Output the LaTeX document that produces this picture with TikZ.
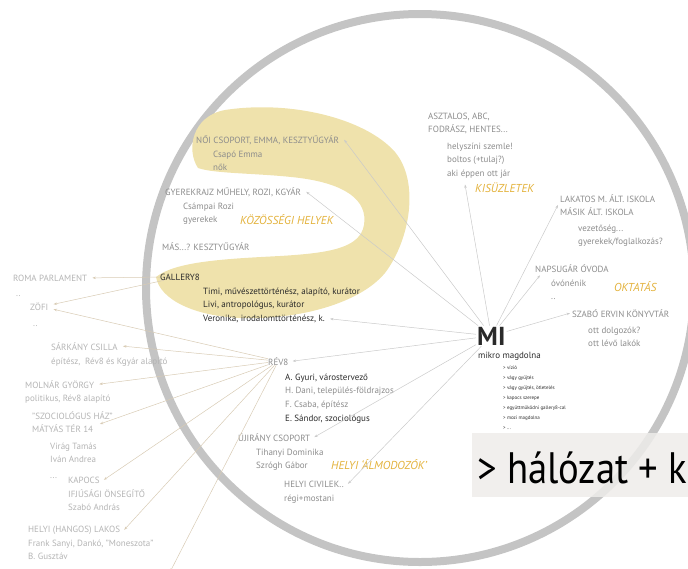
\documentclass[tikz,border=0pt]{standalone}
\usepackage{fontspec}
\setmainfont{PT Sans}
\newfontfamily\bigfont{PT Sans}[FakeStretch=0.88]
\usetikzlibrary{arrows.meta,positioning}

\definecolor{ringgray}{HTML}{C4C4C4}
\definecolor{blob}{HTML}{EFE2AC}
\definecolor{gold}{HTML}{E3B23C}
\definecolor{txtgray}{HTML}{8C8C8C}
\definecolor{outgray}{HTML}{B4B4B4}
\definecolor{dark}{HTML}{2A2A2A}
\definecolor{linegray}{HTML}{CACACA}
\definecolor{linetan}{HTML}{D8CBB4}
\definecolor{boxgray}{HTML}{EEECEA}

\begin{document}
\begin{tikzpicture}[x=1pt,y=-1pt]
  \tikzstyle{lbl}=[inner sep=0pt, anchor=base west, align=left, font=\fontsize{9}{13.7}\selectfont, text=txtgray]
  \tikzstyle{outlbl}=[lbl, text=outgray]
  \tikzstyle{darklbl}=[lbl, text=dark]
  \tikzstyle{cat}=[inner sep=0pt, anchor=base west, font=\fontsize{11.5}{13}\selectfont\itshape, text=gold]
  \tikzstyle{link}=[-{Stealth[length=3.5pt,width=2.5pt]}, line width=0.5pt, linegray]
  \tikzstyle{outlink}=[link, linetan]

  \useasboundingbox (0,0) rectangle (688,568);
  \clip (0,0) rectangle (688,568);

  % the big circle
  \draw[ringgray, line width=8pt] (420,288) circle [radius=274pt];

  % yellow blob of the community places
  \fill[blob] (156,277) .. controls (175,262) and (220,259) .. (280,256)
    .. controls (330,253) and (360,248) .. (364,225)
    .. controls (368,200) and (345,184) .. (300,178)
    .. controls (260,173) and (215,174) .. (198,168)
    .. controls (186,150) and (192,116) .. (225,110)
    .. controls (290,100) and (365,118) .. (395,152)
    .. controls (420,182) and (410,240) .. (385,273)
    .. controls (360,303) and (300,320) .. (240,318)
    .. controls (195,316) and (160,300) .. (156,277) -- cycle;

  % MI (multi-line nodes sit on the baseline of their last line)
  \node[inner sep=1pt, anchor=base west, font=\fontsize{26}{26}\selectfont\bfseries, text=dark] (mi) at (476,345) {MI};
  \node[darklbl] (misub) at (478,358) {mikro magdolna};
  \node[inner sep=0pt, anchor=base west, align=left, font=\fontsize{5}{10}\selectfont, text=dark] (milist) at (503,429)
    {> vízió\\> vágy gyűjtés\\> vágy gyűjtés, ötletelés\\> kapocs szerepe\\> együttműködni gallery8-cal\\> mozi magdolna\\> ...};

  % community places
  \node[lbl] (noi) at (196,143) {NŐI CSOPORT, EMMA, KESZTYŰGYÁR};
  \node[lbl] (noisub) at (213,170.7) {Csapó Emma\\nők};
  \node[lbl] (gyer) at (165,195) {GYEREKRAJZ MŰHELY, ROZI, KGYÁR};
  \node[lbl] (gyersub) at (183,222.7) {Csámpai Rozi\\gyerekek};
  \node[cat] (kozos) at (240,224) {KÖZÖSSÉGI HELYEK};
  \node[lbl] (mas) at (162,250) {MÁS...? KESZTYŰGYÁR};
  \node[darklbl] (gal) at (160,280) {GALLERY8};
  \node[darklbl] (galsub) at (203,307.7) {Timi, művészettörténész, alapító, kurátor\\Livi, antropológus, kurátor};
  \node[darklbl] (vero) at (203,321.4) {Veronika, irodalomttörténész, k.};

  % local dreamers
  \node[lbl] (revb) at (268,365) {RÉV8};
  \node[lbl] (revsub) at (285,421.1) {{\color{dark}A. Gyuri, várostervező}\\H. Dani, település-földrajzos\\F. Csaba, építész\\{\color{dark}E. Sándor, szociológus}};
  \node[lbl] (ujir) at (238,441) {ÚJIRÁNY CSOPORT};
  \node[lbl] (ujsub) at (256,468.7) {Tihanyi Dominika\\Szrógh Gábor};
  \node[cat] (almod) at (331,469) {HELYI `ÁLMODOZÓK'};
  \node[lbl] (civil) at (284,487) {HELYI CIVILEK..};
  \node[lbl] (civsub) at (284,501) {régi+mostani};

  % shops
  \node[lbl] (aszt) at (428,132.7) {ASZTALOS, ABC,\\FODRÁSZ, HENTES...};
  \node[lbl] (asztsub) at (447,176.4) {helyszíni szemle!\\boltos (+tulaj?)\\aki éppen ott jár};
  \node[cat] (kis) at (475,192) {KISÜZLETEK};

  % schools
  \node[lbl] (lak) at (560,215.7) {LAKATOS M. ÁLT. ISKOLA\\MÁSIK ÁLT. ISKOLA};
  \node[lbl] (laksub) at (578,244.7) {vezetőség...\\gyerekek/foglalkozás?};
  \node[lbl] (nap) at (535,272) {NAPSUGÁR ÓVODA};
  \node[lbl] (napsub) at (551,299.7) {óvónénik\\..};
  \node[cat] (okt) at (614,291) {OKTATÁS};
  \node[lbl] (szabo) at (572,317) {SZABÓ ERVIN KÖNYVTÁR};
  \node[lbl] (szsub) at (588,346.7) {ott dolgozók?\\ott lévő lakók};

  % outside the circle
  \node[outlbl] (roma) at (13,281) {ROMA PARLAMENT};
  \node[outlbl] (romasub) at (16,296) {..};
  \node[outlbl] (zofi) at (30,310) {ZÖFI};
  \node[outlbl] (zofisub) at (33,326) {..};
  \node[outlbl] (sark) at (51,350) {SÁRKÁNY CSILLA};
  \node[outlbl] (sarksub) at (51,364) {építész,~~Rév8 és Kgyár alapító};
  \node[outlbl] (moln) at (25,388) {MOLNÁR GYÖRGY};
  \node[outlbl] (molnsub) at (25,401) {politikus, Rév8 alapító};
  \node[outlbl] (szoc) at (32,432.7) {"SZOCIOLÓGUS HÁZ"\\MÁTYÁS TÉR 14};
  \node[outlbl] (szocsub) at (50,462.7) {Virág Tamás\\Iván Andrea};
  \node[outlbl] (kapdots) at (50,478) {...};
  \node[outlbl] (kap) at (68,483) {KAPOCS};
  \node[outlbl] (kapsub) at (68,510.7) {IFJÚSÁGI ÖNSEGÍTŐ\\Szabó András};
  \node[outlbl] (lakos) at (28,532) {HELYI (HANGOS) LAKOS};
  \node[outlbl] (lakossub) at (28,559.7) {Frank Sanyi, Dankó, "Moneszota"\\B. Gusztáv};
  \coordinate (lakos2) at (170,572);

  % MI connections
  \draw[link] (mi) -- ([xshift=5pt]noi.east);
  \draw[link] (mi) -- ([xshift=5pt]gyer.east);
  \draw[link] (mi) -- ([xshift=5pt]vero.east);
  \draw[link] (mi) -- ([xshift=4pt]revb.east);
  \draw[link] (mi) -- ([xshift=18pt,yshift=-6pt]asztsub.south west);
  \draw[link] (mi) -- ([xshift=-2pt]lak.west);
  \draw[link] (mi) -- ([xshift=5pt,yshift=-3pt]nap.south west);
  \draw[link] (mi) -- ([xshift=-2pt]szabo.west);
  \draw[link] (mi) -- ([xshift=4pt]ujir.east);
  \draw[link] (mi) -- ([xshift=4pt]civil.east);

  % outside connections
  \draw[outlink] (gal) -- ([xshift=5pt]roma.east);
  \draw[outlink] (gal) -- ([xshift=5pt,yshift=2pt]zofi.east);
  \draw[outlink] (revb) -- ([xshift=5pt,yshift=-3pt]zofi.east);
  \draw[outlink] (revb) -- ([xshift=5pt]sark.east);
  \draw[outlink] (revb) -- ([xshift=5pt]moln.east);
  \draw[outlink] (revb) -- ([xshift=-13pt,yshift=-2pt]szoc.east);
  \draw[outlink] (revb) -- ([xshift=4pt]kap.east);
  \draw[outlink] (revb) -- ([xshift=4pt]lakos.east);
  \draw[outlink] (revb) -- (lakos2);

  % network box
  \node[fill=boxgray, fill opacity=0.85, inner sep=0pt, anchor=north west, minimum width=230pt, minimum height=64pt] (halobox) at (472,433) {};
  \node[inner sep=0pt, anchor=base west, font=\fontsize{44}{44}\bigfont, text=black] (halo) at (477,483) {> hálózat + k};
\end{tikzpicture}
\end{document}
